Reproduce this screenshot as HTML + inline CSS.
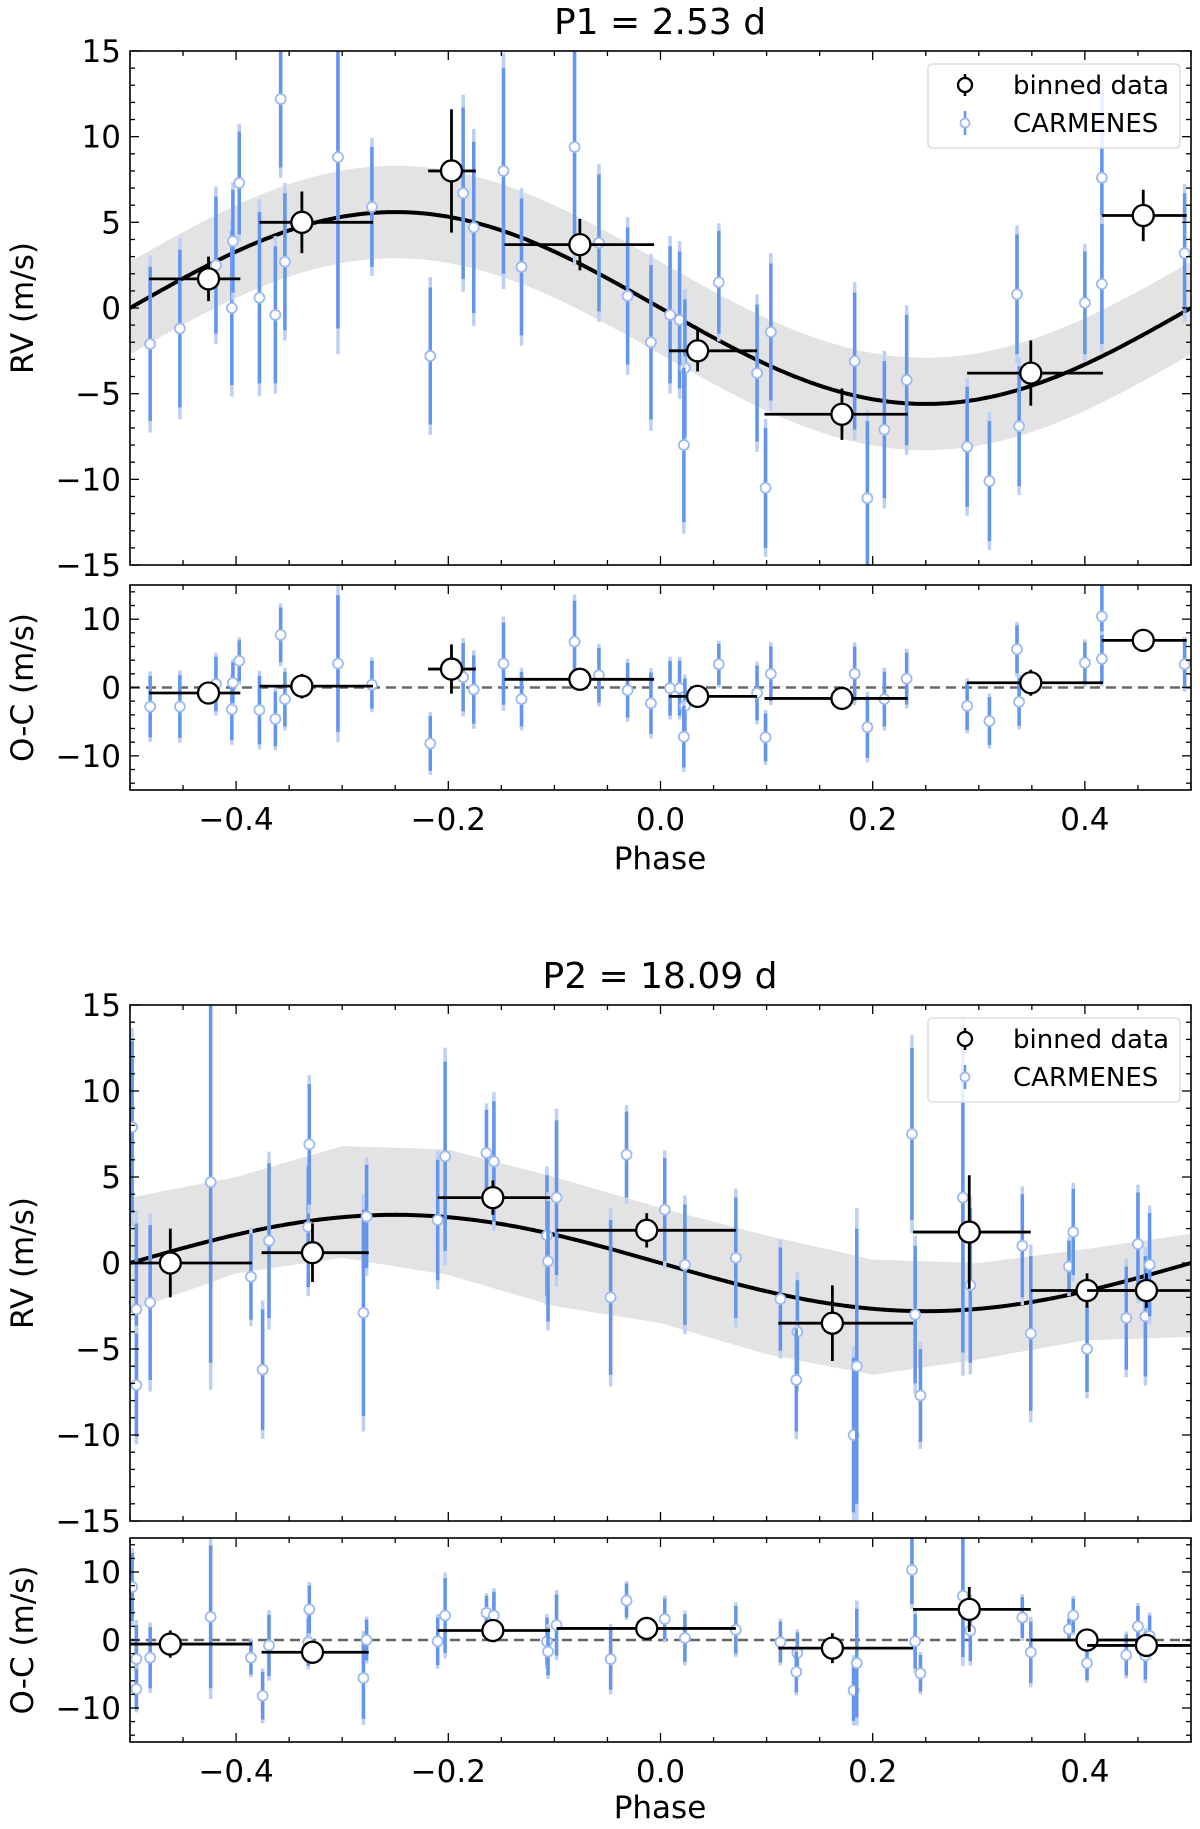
<!DOCTYPE html>
<html><head><meta charset="utf-8"><style>
body{margin:0;background:#fff;}
svg{display:block;font-family:"DejaVu Sans","Liberation Sans",sans-serif;}
</style></head><body>
<svg id="fig" width="1200" height="1829" viewBox="0 0 1200 1829" xmlns="http://www.w3.org/2000/svg"></svg>
<script>
// ===== Panel 1 (P1 = 2.53 d) data =====
const p1Phase = [-0.481,-0.453,-0.419,-0.404,-0.403,-0.397,-0.378,-0.363,-0.358,-0.354,-0.304,-0.272,-0.217,-0.186,-0.176,-0.148,-0.131,-0.081,-0.058,-0.031,-0.009,0.009,0.018,0.023,0.022,0.055,0.091,0.099,0.104,0.183,0.195,0.211,0.232,0.289,0.310,0.336,0.338,0.400,0.416,0.416,0.494];
const p1RV = [-2.1,-1.2,2.5,0,3.9,7.3,0.6,-0.4,12.2,2.7,8.8,5.9,-2.8,6.7,4.7,8.0,2.4,9.4,3.8,0.7,-2.0,-0.4,-0.7,-3.5,-8.0,1.5,-3.8,-10.5,-1.4,-3.1,-11.1,-7.1,-4.2,-8.1,-10.1,0.8,-6.9,0.3,7.6,1.4,3.2];
const p1Err = [4.5,4.6,4,4.5,3,3,5,4,4,4,10,3.5,4,5,5,6,4,6,4,4,4.5,4,4,4,4.5,3,4,3.5,4,4,4.5,4,3.8,3.5,3.5,3.5,3.5,3,5,3.5,3.5];
const p1Resid = [-2.8,-2.8,0.5,-3.2,0.7,3.9,-3.3,-4.6,7.7,-1.7,3.5,0.4,-8.2,1.5,-0.3,3.5,-1.7,6.7,1.8,-0.4,-2.3,-0.1,-0.1,-2.7,-7.2,3.4,-0.8,-7.3,2.0,2.0,-5.8,-1.7,1.3,-2.7,-4.9,5.6,-2.1,3.6,10.4,4.2,3.4];
const p1BinPhase = [-0.426,-0.338,-0.197,-0.076,0.035,0.171,0.349,0.455];
const p1BinLo = [-0.482,-0.378,-0.219,-0.147,0.008,0.098,0.289,0.416];
const p1BinHi = [-0.396,-0.271,-0.174,-0.006,0.091,0.233,0.417,0.496];
const p1BinRV = [1.7,5.0,8.0,3.7,-2.5,-6.2,-3.8,5.4];
const p1BinErr = [1.3,1.8,3.6,1.5,1.2,1.5,1.9,1.5];
const p1BinResid = [-0.8,0.2,2.7,1.2,-1.3,-1.6,0.7,6.9];
const p1ModelK = [5.6];
const p1BandHalf = [2.7];

// ===== Panel 2 (P2 = 18.09 d) data =====
const p2Phase = [-0.498,-0.494,-0.494,-0.481,-0.424,-0.386,-0.375,-0.369,-0.332,-0.331,-0.280,-0.277,-0.210,-0.203,-0.164,-0.157,-0.107,-0.106,-0.098,-0.047,-0.032,0.004,0.023,0.071,0.113,0.129,0.128,0.182,0.185,0.237,0.240,0.245,0.285,0.292,0.341,0.349,0.385,0.389,0.402,0.439,0.450,0.457,0.461];
const p2RV = [7.9,-2.7,-7.1,-2.3,4.7,-0.8,-6.2,1.3,2.1,6.9,-2.9,2.7,2.5,6.2,6.4,5.9,1.6,0.1,3.8,-2.0,6.3,3.1,-0.1,0.3,-2.1,-4.0,-6.8,-10.0,-6.0,7.5,-3.0,-7.7,3.8,-1.3,1.0,-4.1,-0.2,1.8,-5.0,-3.2,1.1,-3.1,-0.1];
const p2Err = [5,5,3,4.5,10.5,2.5,3.5,4.5,3.5,3.5,6,3,3.5,5.5,2.5,3.5,3.5,3.5,4.5,4.5,2.5,3,3.5,3.5,3,3,3,4.5,8,5,4,2.7,9,4.5,3,4.5,1.5,2.5,2.5,3,3,3.5,3];
const p2Resid = [7.8,-2.8,-7.2,-2.6,3.4,-2.6,-8.2,-0.8,-0.3,4.5,-5.6,0,-0.2,3.6,4.0,3.6,-0.2,-1.7,2.2,-2.8,5.8,3.1,0.3,1.5,-0.3,-1.9,-4.7,-7.4,-3.4,10.3,-0.2,-4.9,6.5,1.4,3.3,-1.8,1.6,3.6,-3.4,-2.2,2.0,-2.3,0.6];
const p2BinPhase = [-0.462,-0.328,-0.158,-0.013,0.162,0.291,0.402,0.458];
const p2BinLo = [-0.5,-0.376,-0.21,-0.098,0.111,0.238,0.349,0.402];
const p2BinHi = [-0.385,-0.275,-0.104,0.071,0.238,0.349,0.458,0.5];
const p2BinRV = [0.0,0.6,3.8,1.9,-3.5,1.8,-1.6,-1.6];
const p2BinErr = [2,1.7,1,1,2.2,3.3,1,1];
const p2BinResid = [-0.6,-1.8,1.4,1.7,-1.2,4.5,0,-0.8];
const p2ModelK = [2.8];
const p2BandPhase = [-0.5,-0.4,-0.3,-0.2,-0.1,0,0.1,0.2,0.3,0.4,0.5];
const p2BandUpper = [3.8,5.0,6.8,6.6,5.0,3.2,1.6,0.2,0.0,0.8,1.7];
const p2BandLower = [-2.8,-0.6,0.3,-0.7,-2.5,-3.5,-5.3,-6.5,-5.6,-4.5,-4.3];

const xTicks = [-0.4,-0.2,0.0,0.2,0.4];
const xTickLabels = ["\u22120.4","\u22120.2","0.0","0.2","0.4"];
const yTicksMain = [15,10,5,0,-5,-10,-15];
const yTicksRes = [10,0,-10];

const NS = "http://www.w3.org/2000/svg";
const svg = document.getElementById('fig');
function mk(tag, attrs, parent){
  const e = document.createElementNS(NS, tag);
  for (const k in attrs) e.setAttribute(k, attrs[k]);
  (parent||svg).appendChild(e);
  return e;
}
const X0 = 130, X1 = 1191;
function xs(p){ return X0 + (p + 0.5) * (X1 - X0); }
function yScale(top, bot, lo, hi){ return v => bot - (v - lo) / (hi - lo) * (bot - top); }
function fmt(v){ return v < 0 ? "\u2212" + Math.abs(v) : String(v); }

const BLUE = "#6495ED", LBLUE = "#bcd0f5";

function drawFrame(g, top, bot, ys, yt, yminorStep, ylo, yhi, showXLabels, ylabel, name){
  for (let p = -0.5; p <= 0.5001; p += 0.05) {
    const major = Math.abs(Math.round(p*10)/10 - p) < 1e-6 && Math.abs(Math.round(p*10) % 2) === 0 && Math.abs(p) < 0.45;
    const len = major ? 9 : 5;
    const x = xs(p);
    const t = mk('line', {x1:x, x2:x, y1:bot, y2:bot-len, stroke:'#000', 'stroke-width':1.3}, g);
    
    
    mk('line', {x1:x, x2:x, y1:top, y2:top+len, stroke:'#000', 'stroke-width':1.3}, g);
  }
  for (let v = ylo; v <= yhi + 1e-6; v += yminorStep) {
    const major = yt.includes(Math.round(v));
    const len = major ? 9 : 5;
    const y = ys(v);
    mk('line', {x1:X0, x2:X0+len, y1:y, y2:y, stroke:'#000', 'stroke-width':1.3}, g);
    mk('line', {x1:X1, x2:X1-len, y1:y, y2:y, stroke:'#000', 'stroke-width':1.3}, g);
  }
  yt.forEach(v => {
    const t = mk('text', {x:121, y:ys(v)+11, 'text-anchor':'end', 'font-size':31, fill:'#000'}, g);
    
    
    t.textContent = fmt(v);
  });
  const f = mk('rect', {x:X0, y:top, width:X1-X0, height:bot-top, fill:'none', stroke:'#000', 'stroke-width':1.6}, g);
  
  
  const yl = mk('text', {x:0, y:0, transform:`translate(33,${(top+bot)/2}) rotate(-90)`, 'text-anchor':'middle', 'font-size':31, fill:'#000'}, g);
  
  
  yl.textContent = ylabel;
  if (showXLabels) {
    xTicks.forEach((p, i) => {
      const t = mk('text', {x:xs(p), y:bot+40, 'text-anchor':'middle', 'font-size':31, fill:'#000'}, g);
      
      
      t.textContent = xTickLabels[i];
    });
  }
}

function drawPoints(g, ys, phases, vals, errs, clipId){
  const cg = mk('g', {'clip-path':`url(#${clipId})`}, g);
  phases.forEach((p, i) => {
    const x = xs(p), y = ys(vals[i]);
    const outer = mk('line', {x1:x, x2:x, y1:ys(vals[i]+errs[i]*1.15), y2:ys(vals[i]-errs[i]*1.15), stroke:LBLUE, 'stroke-width':3.5}, cg);
    
    
    const inner = mk('line', {x1:x, x2:x, y1:ys(vals[i]+errs[i]), y2:ys(vals[i]-errs[i]), stroke:BLUE, 'stroke-width':3.5}, cg);
    
    
    const c = mk('circle', {cx:x, cy:y, r:5, fill:'#fff', stroke:'#9dbaf2', 'stroke-width':1.8}, cg);
    
    
  });
}
function drawBins(g, ys, ph, lo, hi, vals, errs){
  ph.forEach((p, i) => {
    const x = xs(p), y = ys(vals[i]);
    const h = mk('line', {x1:xs(lo[i]), x2:xs(hi[i]), y1:y, y2:y, stroke:'#000', 'stroke-width':2.8}, g);
    
    
    const v = mk('line', {x1:x, x2:x, y1:ys(vals[i]+errs[i]), y2:ys(vals[i]-errs[i]), stroke:'#000', 'stroke-width':2.8}, g);
    
    
    const c = mk('circle', {cx:x, cy:y, r:10.5, fill:'#fff', stroke:'#000', 'stroke-width':2.3}, g);
    
    
  });
}
function drawLegend(g, top){
  const b = mk('rect', {x:928, y:top, width:252, height:84, rx:4, fill:'#fff', 'fill-opacity':0.85, stroke:'#ddd', 'stroke-width':1.5}, g);
  
  
  const y1 = top+21, y2 = top+59;
  mk('line', {x1:965, x2:965, y1:y1-11, y2:y1+11, stroke:'#000', 'stroke-width':2.5}, g);
  const m1 = mk('circle', {cx:965, cy:y1, r:7, fill:'#fff', stroke:'#000', 'stroke-width':2.3}, g);
  
  
  const t1 = mk('text', {x:1013, y:y1+9, 'font-size':26, fill:'#000'}, g);
  
  
  t1.textContent = 'binned data';
  mk('line', {x1:965, x2:965, y1:y2-12, y2:y2+12, stroke:BLUE, 'stroke-width':2.5}, g);
  const m2 = mk('circle', {cx:965, cy:y2, r:4.5, fill:'#fff', stroke:'#9dbaf2', 'stroke-width':1.8}, g);
  
  
  const t2 = mk('text', {x:1013, y:y2+9, 'font-size':26, fill:'#000'}, g);
  
  
  t2.textContent = 'CARMENES';
}

const defs = mk('defs', {});
function clip(id, top, bot){
  const c = mk('clipPath', {id:id}, defs);
  mk('rect', {x:X0, y:top, width:X1-X0, height:bot-top}, c);
}

function panel(cfg){
  const g = mk('g', {});
  
  
  const ys = yScale(cfg.top, cfg.bot, -15, 15);
  const yr = yScale(cfg.rtop, cfg.rbot, -15, 15);
  clip(cfg.name+'-clip', cfg.top, cfg.bot);
  clip(cfg.name+'-rclip', cfg.rtop, cfg.rbot);
  const title = mk('text', {x:660, y:cfg.titleY, 'text-anchor':'middle', 'font-size':36, fill:'#000'}, g);
  
  
  title.textContent = cfg.title;
  const cg = mk('g', {'clip-path':`url(#${cfg.name}-clip)`}, g);
  let up = [], dn = [];
  for (let k = 0; k <= 200; k++) {
    const p = -0.5 + k/200;
    const m = -cfg.K * Math.sin(2*Math.PI*p);
    const [u, l] = cfg.band(p, m);
    up.push(`${xs(p).toFixed(1)},${ys(u).toFixed(1)}`);
    dn.unshift(`${xs(p).toFixed(1)},${ys(l).toFixed(1)}`);
  }
  const band = mk('polygon', {points:up.concat(dn).join(' '), fill:'#e3e3e3'}, cg);
  
  
  drawPoints(g, ys, cfg.ph, cfg.rv, cfg.err, cfg.name+'-clip');
  let d = '';
  for (let k = 0; k <= 300; k++) {
    const p = -0.5 + k/300;
    d += (k ? 'L' : 'M') + xs(p).toFixed(1) + ',' + ys(-cfg.K*Math.sin(2*Math.PI*p)).toFixed(1);
  }
  const curve = mk('path', {d:d, fill:'none', stroke:'#000', 'stroke-width':4}, cg);
  
  
  drawBins(g, ys, cfg.bph, cfg.blo, cfg.bhi, cfg.brv, cfg.berr);
  drawFrame(g, cfg.top, cfg.bot, ys, yTicksMain, 1, -15, 15, false, 'RV (m/s)', cfg.name+'-rv');
  drawLegend(g, cfg.legTop);
  const zl = mk('line', {x1:X0, x2:X1, y1:yr(0), y2:yr(0), stroke:'#666', 'stroke-width':2.4, 'stroke-dasharray':'10,6'}, g);
  
  
  drawPoints(g, yr, cfg.ph, cfg.res, cfg.err, cfg.name+'-rclip');
  drawBins(g, yr, cfg.bph, cfg.blo, cfg.bhi, cfg.bres, cfg.berr);
  drawFrame(g, cfg.rtop, cfg.rbot, yr, yTicksRes, 2, -14, 14, true, 'O-C (m/s)', cfg.name+'-oc');
  const xl = mk('text', {x:660, y:cfg.xlabY, 'text-anchor':'middle', 'font-size':31, fill:'#000'}, g);
  
  
  xl.textContent = 'Phase';
}

function interp(xa, ya, x){
  for (let i = 0; i < xa.length-1; i++) {
    if (x <= xa[i+1]) { const t = (x - xa[i])/(xa[i+1]-xa[i]); return ya[i] + t*(ya[i+1]-ya[i]); }
  }
  return ya[ya.length-1];
}

panel({name:'panel-p1', title:'P1 = 2.53 d', titleY:34, top:51, bot:565, rtop:585, rbot:790, legTop:64, xlabY:869,
  K:p1ModelK[0], band:(p,m)=>[m+p1BandHalf[0], m-p1BandHalf[0]],
  ph:p1Phase, rv:p1RV, err:p1Err, res:p1Resid,
  bph:p1BinPhase, blo:p1BinLo, bhi:p1BinHi, brv:p1BinRV, berr:p1BinErr, bres:p1BinResid});
panel({name:'panel-p2', title:'P2 = 18.09 d', titleY:988, top:1005, bot:1521, rtop:1538, rbot:1742, legTop:1018, xlabY:1818,
  K:p2ModelK[0], band:(p,m)=>[interp(p2BandPhase,p2BandUpper,p), interp(p2BandPhase,p2BandLower,p)],
  ph:p2Phase, rv:p2RV, err:p2Err, res:p2Resid,
  bph:p2BinPhase, blo:p2BinLo, bhi:p2BinHi, brv:p2BinRV, berr:p2BinErr, bres:p2BinResid});
</script>
</body></html>
